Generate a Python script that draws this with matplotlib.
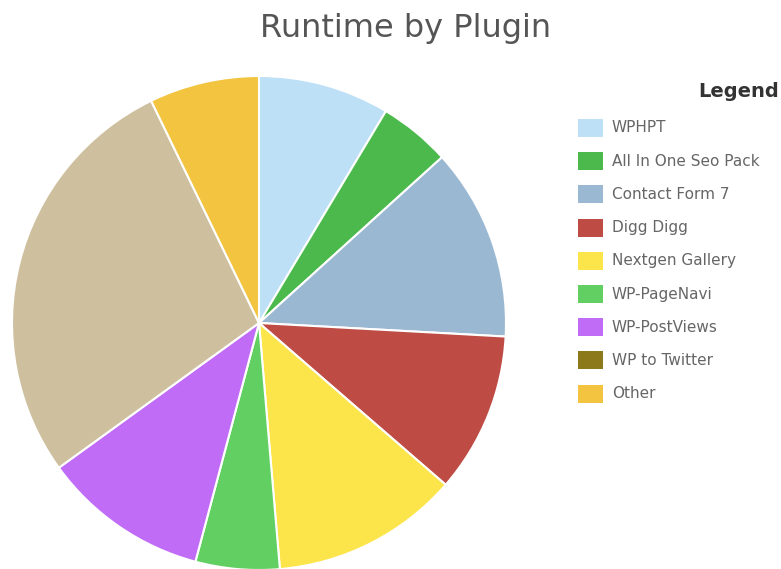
import matplotlib.pyplot as plt
from matplotlib.patches import Rectangle

# Runtime share per plugin (percent)
plugins = ['WPHPT', 'All In One Seo Pack', 'Contact Form 7', 'Digg Digg',
           'Nextgen Gallery', 'WP-PageNavi', 'WP-PostViews', 'WP to Twitter', 'Other']
runtime = [8.6, 4.7, 12.6, 10.5, 12.3, 5.5, 10.9, 27.8, 7.2]
slice_colors = ['#BDE0F7', '#4CB94C', '#9BB8D3', '#BE4C45', '#FCE54A',
                '#62CF62', '#C06CF7', '#CEC09F', '#F2C43F']
legend_colors = ['#BDE0F7', '#4CB94C', '#9BB8D3', '#BE4C45', '#FCE54A',
                 '#62CF62', '#C06CF7', '#8C7A1A', '#F2C43F']

W, H = 781, 569
fig = plt.figure(figsize=(W / 100, H / 100), dpi=100)

# pie axes: centre (259, 323) px, radius 247 px
cx, cy, r = 259, 323, 247
ax = fig.add_axes([(cx - r) / W, (H - cy - r) / H, 2 * r / W, 2 * r / H])
ax.pie(runtime, colors=slice_colors, startangle=90, counterclock=False,
       radius=1.0, wedgeprops=dict(edgecolor='white', linewidth=1.5))
ax.set_xlim(-1.0, 1.0)
ax.set_ylim(-1.0, 1.0)
ax.axis('off')

fig.text(406 / W, 1 - 28 / H, 'Runtime by Plugin', ha='center', va='center',
         fontsize=23, color='#555555')

# legend drawn by hand
fig.text(779 / W, 1 - 92 / H, 'Legend', ha='right', va='center',
         fontsize=14, fontweight='bold', color='#333333')
y0, step = 128, 33.2
for i, (name, col) in enumerate(zip(plugins, legend_colors)):
    y = y0 + i * step
    fig.patches.append(Rectangle((578 / W, 1 - (y + 9) / H), 25 / W, 18 / H,
                                 transform=fig.transFigure, facecolor=col,
                                 edgecolor='none'))
    fig.text(612 / W, 1 - y / H, name, ha='left', va='center',
             fontsize=11, color='#666666')

fig.savefig('out.png', dpi=100)
